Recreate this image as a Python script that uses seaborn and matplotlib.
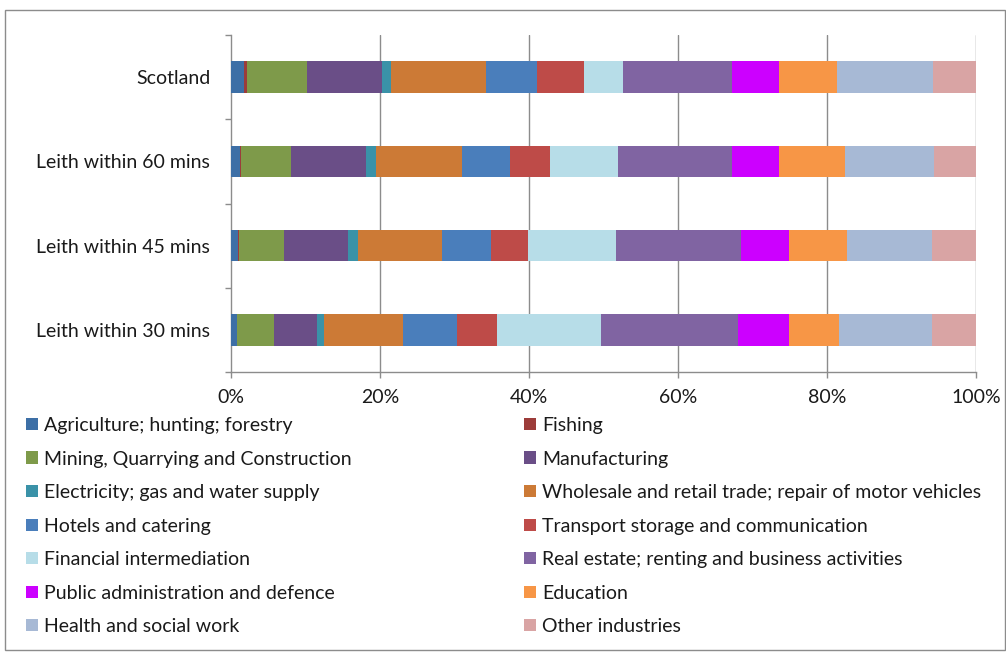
import numpy as np
import pandas as pd
import matplotlib
matplotlib.use("Agg")
import matplotlib.pyplot as plt
from matplotlib.patches import Patch, Rectangle
from matplotlib.ticker import FixedLocator, FuncFormatter
import seaborn as sns

# Share of employment by industry (%), each row sums to 100
areas = ["Scotland", "Leith within 60 mins", "Leith within 45 mins", "Leith within 30 mins"]
industries = [
    "Agriculture; hunting; forestry",
    "Fishing",
    "Mining, Quarrying and Construction",
    "Manufacturing",
    "Electricity; gas and water supply",
    "Wholesale and retail trade; repair of motor vehicles",
    "Hotels and catering",
    "Transport storage and communication",
    "Financial intermediation",
    "Real estate; renting and business activities",
    "Public administration and defence",
    "Education",
    "Health and social work",
    "Other industries",
]
scotland = [1.74, 0.37, 8.13, 9.99, 1.25, 12.71, 6.92, 6.23, 5.24, 14.71, 6.27, 7.82, 12.89, 5.73]
leith_60 = [1.20, 0.10, 6.70, 10.10, 1.30, 11.60, 6.40, 5.40, 9.20, 15.30, 6.30, 8.80, 11.90, 5.70]
leith_45 = [1.00, 0.10, 6.00, 8.65, 1.25, 11.30, 6.55, 5.05, 11.80, 16.70, 6.55, 7.70, 11.40, 5.95]
leith_30 = [0.75, 0.10, 4.90, 5.75, 1.00, 10.55, 7.35, 5.35, 13.85, 18.50, 6.85, 6.65, 12.45, 5.95]
tick_values = [0, 20, 40, 60, 80, 100]

colors = [
    "#3D6FA6", "#9C3C3A", "#7E9A4A", "#6A4E87", "#3A92A8", "#CC7A36", "#4A7EBB",
    "#BE4B48", "#B7DDE8", "#8064A2", "#CC00FF", "#F79646", "#A7B9D5", "#D9A4A4",
]

shares = pd.DataFrame([scotland, leith_60, leith_45, leith_30], index=areas, columns=industries)
totals = shares.div(shares.sum(axis=1), axis=0) * 100
cumulative = totals.cumsum(axis=1)

sns.set_theme(style="white")
plt.rcParams["font.family"] = ["Lato", "DejaVu Sans"]
FONT_SIZE = 14

fig = plt.figure(figsize=(10.06, 6.55), dpi=100)
ax = fig.add_axes([231 / 1006, 1 - 372 / 655, 745 / 1006, 337 / 655])

# Stacked bars: draw cumulative totals from the outermost segment inwards
for name, color in reversed(list(zip(industries, colors))):
    layer = pd.DataFrame({"area": areas, "value": cumulative[name].values})
    sns.barplot(data=layer, x="value", y="area", orient="h", color=color,
                width=0.375, saturation=1, linewidth=0, ax=ax, zorder=3)

ax.set_xlim(0, 100)
ax.set_ylim(3.5, -0.5)
ax.set_xlabel("")
ax.set_ylabel("")

grid_color = "#8C8C8C"
ax.xaxis.set_major_locator(FixedLocator(tick_values))
ax.xaxis.set_major_formatter(FuncFormatter(lambda v, _: f"{v:.0f}%"))
for v in tick_values[1:]:
    ax.axvline(v, color=grid_color, lw=1, zorder=1)

for side in ["top", "right"]:
    ax.spines[side].set_visible(False)
for side in ["left", "bottom"]:
    ax.spines[side].set_color(grid_color)
    ax.spines[side].set_linewidth(1)

ax.tick_params(axis="x", which="major", direction="out", length=4, width=1,
               color=grid_color, labelsize=FONT_SIZE, labelcolor="#1A1A1A", pad=8, bottom=True)
ax.tick_params(axis="y", which="major", length=0, labelsize=FONT_SIZE, labelcolor="#1A1A1A", pad=15)
ax.yaxis.set_minor_locator(FixedLocator([-0.5, 0.5, 1.5, 2.5, 3.5]))
ax.tick_params(axis="y", which="minor", direction="out", length=4, width=1,
               color=grid_color, left=True)

# Legend laid out in two columns, filled row by row
handles = [Patch(facecolor=c, edgecolor="none") for c in colors]
left_idx = list(range(0, len(industries), 2))
right_idx = list(range(1, len(industries), 2))
legend_kw = dict(frameon=False, fontsize=FONT_SIZE, handlelength=0.6, handleheight=0.6,
                 handletextpad=0.35, labelspacing=0.85, borderaxespad=0, borderpad=0,
                 loc="upper left")
leg_left = fig.legend([handles[i] for i in left_idx], [industries[i] for i in left_idx],
                      bbox_to_anchor=(26 / 1006, 1 - 417 / 655), **legend_kw)
leg_right = fig.legend([handles[i] for i in right_idx], [industries[i] for i in right_idx],
                       bbox_to_anchor=(524 / 1006, 1 - 417 / 655), **legend_kw)
for leg in (leg_left, leg_right):
    for t in leg.get_texts():
        t.set_color("#1A1A1A")

# Chart frame
fig.patches.append(Rectangle((5 / 1006, 1 - 650 / 655), 1000 / 1006, 640 / 655,
                             transform=fig.transFigure, fill=False,
                             edgecolor="#8C8C8C", linewidth=1))

fig.savefig("out.png", dpi=100)
